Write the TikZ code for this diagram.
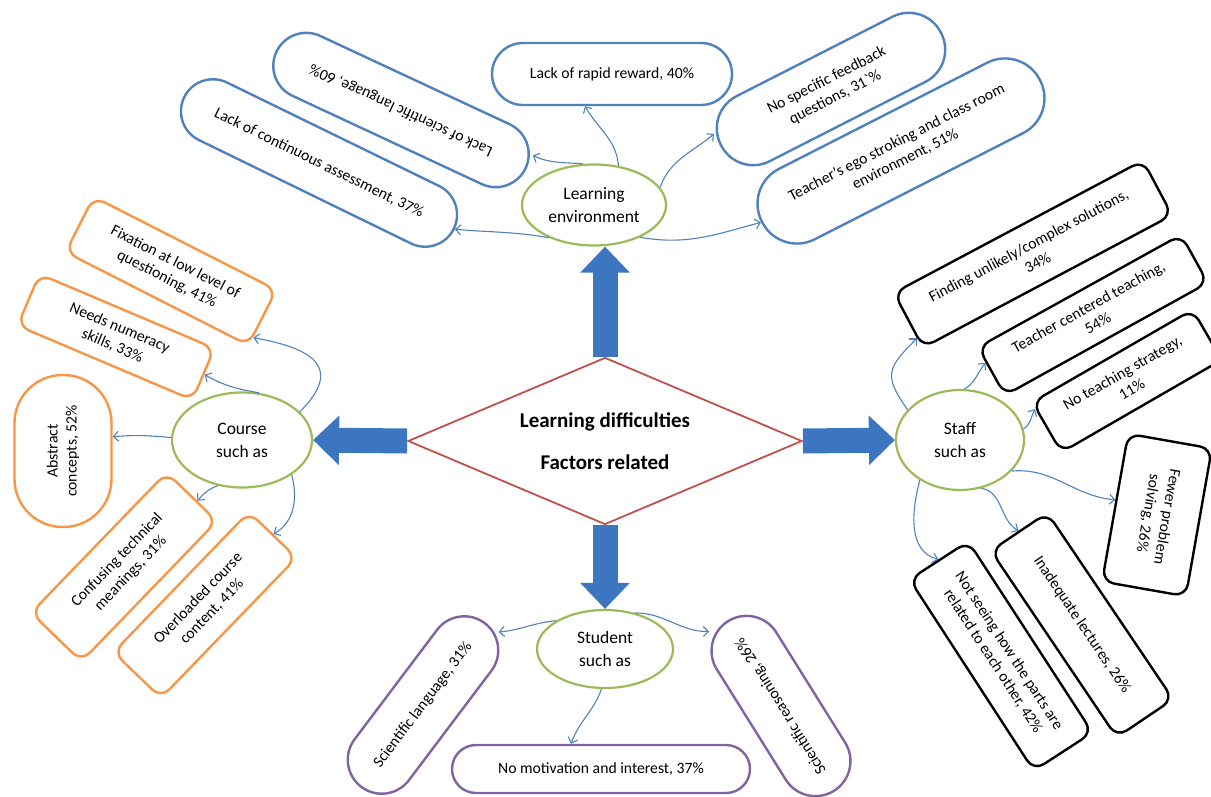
\documentclass[tikz,border=0pt]{standalone}
\usepackage{fontspec}
\setmainfont{Carlito}
\usetikzlibrary{shapes.geometric, arrows.meta, calc}

\definecolor{boxblue}{RGB}{79,129,189}
\definecolor{boxorange}{RGB}{247,150,70}
\definecolor{boxgreen}{RGB}{155,187,89}
\definecolor{boxpurple}{RGB}{128,100,162}
\definecolor{boxred}{RGB}{192,80,77}
\definecolor{arrowblue}{RGB}{60,118,192}

\begin{document}
\begin{tikzpicture}[x=1pt, y=1pt,
    font=\fontsize{15.7}{19}\selectfont,
    group/.style={ellipse, draw=boxgreen, line width=2.2pt, fill=white, inner sep=0pt, align=center, font=\fontsize{17.5}{23}\selectfont},
    blueitem/.style={rectangle, draw=boxblue, line width=2.4pt, fill=white, inner sep=0pt, align=center},
    orangeitem/.style={rectangle, rounded corners=12pt, draw=boxorange, line width=2.4pt, fill=white, inner sep=0pt, align=center},
    blackitem/.style={rectangle, rounded corners=12pt, draw=black, line width=2.4pt, fill=white, inner sep=0pt, align=center},
    purpleitem/.style={rectangle, draw=boxpurple, line width=2.4pt, fill=white, inner sep=0pt, align=center},
    link/.style={draw=boxblue, line width=1.1pt, -{Straight Barb[length=5pt,width=10pt]}},
    bigarrow/.style={arrowblue, line width=25pt, -{Triangle[length=26pt,width=48pt]}}]
    \useasboundingbox (0,0) rectangle (1211,-796);
    \clip (0,0) rectangle (1211,-796);

    % Central node
    \node[diamond, draw=boxred, line width=1.8pt, fill=white, aspect=2.36, minimum width=394pt, minimum height=167pt, inner sep=0pt, align=center, font=\bfseries\fontsize{21}{23}\selectfont] (dia) at (605,-441) {Learning difficulties\\[19pt]Factors related};

    % Factor groups
    \node[group, minimum width=144pt, minimum height=81pt] (le) at (594,-205) {Learning\\environment};
    \node[group, minimum width=140pt, minimum height=95pt] (crs) at (242,-440) {Course\\such as};
    \node[group, minimum width=128pt, minimum height=100pt] (stf) at (960,-440) {Staff\\such as};
    \node[group, minimum width=136pt, minimum height=78pt] (stu) at (605,-649) {Student\\such as};

    % Learning environment items
    \node[blueitem, rotate=155, minimum width=275pt, minimum height=66pt, rounded corners=33pt] (lsl) at (401,-110) {Lack of scientific language, 60\%};
    \node[blueitem, rotate=-26, minimum width=300pt, minimum height=64pt, rounded corners=32pt] (lca) at (319,-163) {Lack of continuous assessment, 37\%};
    \node[blueitem, minimum width=240pt, minimum height=62pt, rounded corners=31pt] (lrr) at (612,-74) {Lack of rapid reward, 40\%};
    \node[blueitem, rotate=27, minimum width=247pt, minimum height=73pt, rounded corners=36pt] (nsf) at (831,-89) {No specific feedback\\questions, 31\textasciigrave\%};
    \node[blueitem, rotate=27, minimum width=312pt, minimum height=79pt, rounded corners=39pt] (teg) at (901,-151) {Teacher's ego stroking and class room\\environment, 51\%};

    % Course items
    \node[orangeitem, rotate=-27, minimum width=205pt, minimum height=62pt] (fix) at (171,-271) {Fixation at low level of\\questioning, 41\%};
    \node[orangeitem, rotate=-23, minimum width=190pt, minimum height=56pt] (num) at (116,-337) {Needs numeracy\\skills, 33\%};
    \node[orangeitem, rotate=90, minimum width=152pt, minimum height=97pt, rounded corners=48pt] (abs) at (63,-451) {Abstract\\concepts, 52\%};
    \node[orangeitem, rotate=46, minimum width=195pt, minimum height=70pt] (ctm) at (124,-567) {Confusing technical\\meanings, 31\%};
    \node[orangeitem, rotate=46, minimum width=195pt, minimum height=66pt] (occ) at (205,-605) {Overloaded course\\content, 41\%};

    % Staff items
    \node[blackitem, rotate=28, minimum width=282pt, minimum height=62pt] (fuc) at (1033,-254) {Finding unlikely/complex solutions,\\34\%};
    \node[blackitem, rotate=29, minimum width=232pt, minimum height=55pt] (tct) at (1093,-315) {Teacher centered teaching,\\54\%};
    \node[blackitem, rotate=30, minimum width=185pt, minimum height=58pt] (nts) at (1127,-381) {No teaching strategy,\\11\%};
    \node[blackitem, rotate=-100, minimum width=150pt, minimum height=85pt] (fps) at (1157,-515) {Fewer problem\\solving, 26\%};
    \node[blackitem, rotate=-56, minimum width=225pt, minimum height=68pt] (ilc) at (1082,-625) {Inadequate lectures, 26\%};
    \node[blackitem, rotate=-57, minimum width=228pt, minimum height=70pt] (nsh) at (1001,-656) {Not seeing how the parts are\\related to each other, 42\%};

    % Student items
    \node[purpleitem, rotate=53, minimum width=205pt, minimum height=68pt, rounded corners=34pt] (scl) at (423,-705) {Scientific language, 31\%};
    \node[purpleitem, minimum width=298pt, minimum height=48pt, rounded corners=24pt] (nmi) at (601,-769) {No motivation and interest, 37\%};
    \node[purpleitem, rotate=122, minimum width=200pt, minimum height=70pt, rounded corners=35pt] (srs) at (781,-706) {Scientific reasoning, 26\%};

    % Big arrows
    \draw[bigarrow] (dia.north) -- (dia.north |- le.south);
    \draw[bigarrow] (dia.west) -- (crs.east);
    \draw[bigarrow] (dia.east) -- (stf.west);
    \draw[bigarrow] (dia.south) -- (stu.north);

    % Links
    \draw[link] (le.58) to[out=95, in=-60] (lrr.230);
    \draw[link] (le.105) to[out=175, in=-25] (lsl.186);
    \draw[link] (le.216) to[out=170, in=-5] (lca.east);
    \draw[link] (le.15) to[out=70, in=-140] (nsf.174);
    \draw[link] (le.-35) to[out=-10, in=195] (teg.west);

    \draw[link] (crs.26) to[out=45, in=-10, looseness=1.8] (fix.-12);
    \draw[link] (crs.70) to[out=170, in=-30] (num.east);
    \draw[link] (crs.178) to[out=175, in=5] (abs.-74);
    \draw[link] (crs.242) to[out=200, in=50] (ctm.-4);
    \draw[link] (crs.-35) to[out=-75, in=30] (occ.east);

    \draw[link] (stf.150) to[out=125, in=-135, looseness=1.5] (fuc.188);
    \draw[link] (stf.85) to[out=30, in=-130] (tct.175);
    \draw[link] (stf.10) to[out=30, in=-120] (nts.167);
    \draw[link] (stf.-31) to[out=5, in=175] (fps.260);
    \draw[link] (stf.-66) to[out=-10, in=150] (ilc.west);
    \draw[link] (stf.225) to[out=-105, in=165] (nsh.west);

    \draw[link] (stu.150) to[out=185, in=5] (scl.-9);
    \draw[link] (stu.50) to[out=0, in=180] (srs.12);
    \draw[link] (stu.-95) to[out=-110, in=70] (nmi.140);
\end{tikzpicture}
\end{document}
